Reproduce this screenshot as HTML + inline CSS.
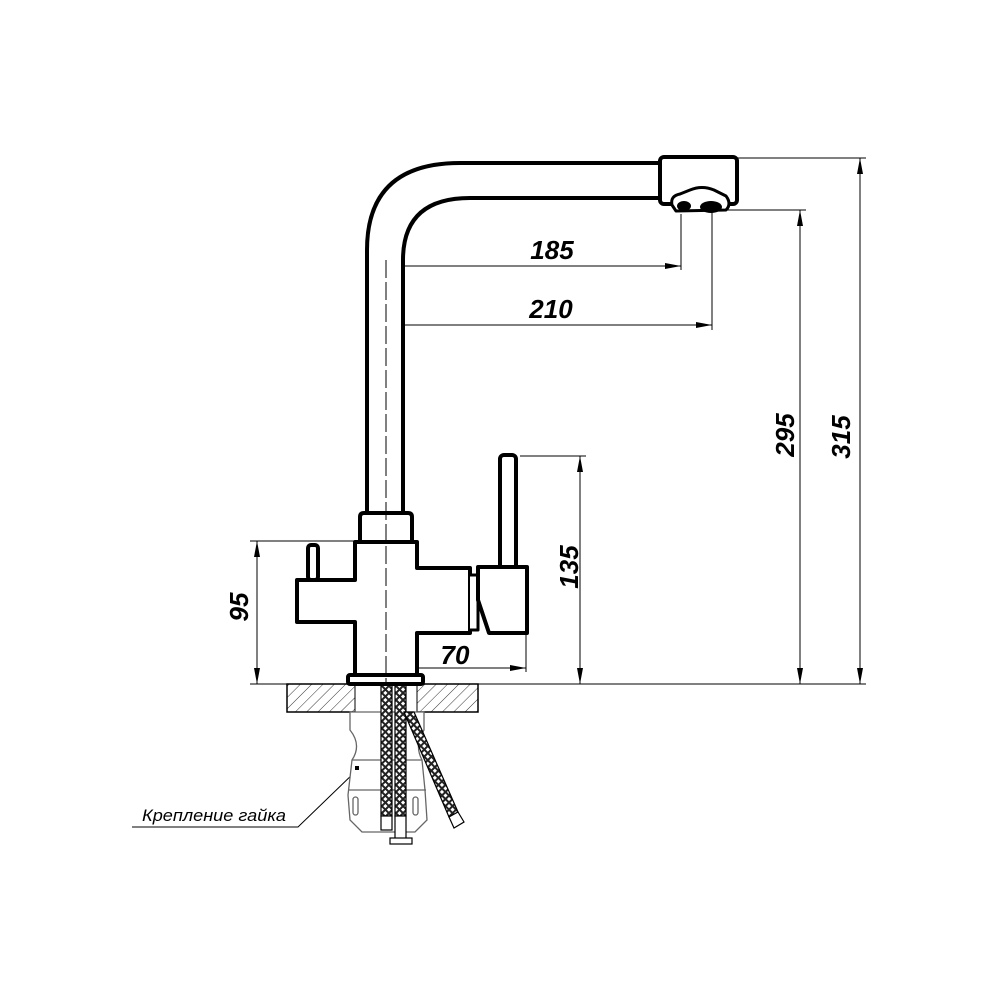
<!DOCTYPE html>
<html><head><meta charset="utf-8"><style>html,body{margin:0;padding:0;background:#fff}svg{display:block}</style></head>
<body>
<svg width="1000" height="1000" viewBox="0 0 1000 1000" xmlns="http://www.w3.org/2000/svg">
<defs>
<pattern id="hat" width="8" height="8" patternUnits="userSpaceOnUse" patternTransform="rotate(45)">
<line x1="0" y1="0" x2="0" y2="8" stroke="#333" stroke-width="1"/></pattern>
<pattern id="mesh" width="5" height="5" patternUnits="userSpaceOnUse" patternTransform="rotate(45)">
<rect width="5" height="5" fill="#222"/><rect x="1" y="1" width="3" height="3" fill="#fff"/></pattern>
<marker id="ar" markerWidth="16" markerHeight="6" refX="16" refY="3" orient="auto-start-reverse" markerUnits="userSpaceOnUse">
<path d="M0,0 L16,3 L0,6 Z" fill="#000"/></marker>
</defs>
<g fill="none" stroke="#000" stroke-width="1">
<line x1="386" y1="266" x2="681" y2="266" marker-end="url(#ar)" marker-start="url(#ar)"/>
<line x1="681" y1="214" x2="681" y2="270"/>
<line x1="386" y1="325" x2="712" y2="325" marker-end="url(#ar)" marker-start="url(#ar)"/>
<line x1="712" y1="212" x2="712" y2="330"/>
<line x1="712" y1="210" x2="806" y2="210"/>
<line x1="737" y1="158" x2="866" y2="158"/>
<line x1="800" y1="684" x2="800" y2="210" marker-end="url(#ar)" marker-start="url(#ar)"/>
<line x1="860" y1="684" x2="860" y2="158" marker-end="url(#ar)" marker-start="url(#ar)"/>
<line x1="250" y1="684" x2="866" y2="684"/>
<line x1="520" y1="456" x2="586" y2="456"/>
<line x1="580" y1="684" x2="580" y2="456" marker-end="url(#ar)" marker-start="url(#ar)"/>
<line x1="250" y1="541" x2="358" y2="541"/>
<line x1="257" y1="684" x2="257" y2="541" marker-end="url(#ar)" marker-start="url(#ar)"/>
<line x1="386" y1="668" x2="526" y2="668" marker-end="url(#ar)" marker-start="url(#ar)"/>
<line x1="526" y1="633" x2="526" y2="672"/>
<polyline points="132,827 298,827 357,770"/>
</g>
<rect x="287" y="684" width="191" height="28" fill="url(#hat)" stroke="#000" stroke-width="1.5"/>
<rect x="355" y="684" width="62" height="28" fill="#fff" stroke="#000" stroke-width="1"/>
<g fill="#fff" stroke="#666" stroke-width="1.3">
<path d="M350,712 L350,730 Q362,745 352,760 L348,795 L350,820 L362,832 L415,832 L427,820 L425,790 L422,760 Q414,745 424,730 L424,712 Z"/>
<line x1="352" y1="760" x2="422" y2="760"/>
<line x1="348" y1="790" x2="426" y2="790"/>
<rect x="353" y="797" width="5" height="18" rx="2.5"/>
<rect x="413" y="797" width="5" height="18" rx="2.5"/>
</g>
<rect x="355" y="766" width="4" height="4" fill="#000"/>
<g stroke="#000" stroke-width="1.2">
<rect x="381" y="684" width="11" height="132" fill="url(#mesh)"/>
<rect x="395" y="684" width="11" height="132" fill="url(#mesh)"/>
<path d="M404,712 L414,712 L458,812 L449,817 Z" fill="url(#mesh)"/>
<rect x="381" y="816" width="11" height="14" fill="#fff"/>
<rect x="395" y="816" width="11" height="24" fill="#fff"/>
<rect x="390" y="838" width="22" height="6" fill="#fff"/>
<path d="M449,817 L458,812 L464,822 L454,828 Z" fill="#fff"/>
</g>
<g fill="#fff" stroke="#000" stroke-width="4" stroke-linejoin="round">
<path d="M367,515 L367,250 Q367,163 460,163 L662,163 L662,198 L470,198 Q403,198 403,260 L403,515"/>
<rect x="660" y="157" width="77" height="47" rx="4"/>
<path d="M672,205 Q670,196 680,194 L690,190 Q702,185 714,190 L726,196 Q732,204 726,210 L676,211 Z" stroke-width="3"/>
<rect x="500" y="455" width="16" height="115" rx="4"/>
<path d="M360,542 L360,517 Q360,513 364,513 L408,513 Q412,513 412,517 L412,542 Z"/>
<path d="M355,542 L417,542 L417,568 L470,568 L470,633 L417,633 L417,675 L355,675 L355,622 L297,622 L297,580 L355,580 Z"/>
<path d="M470,575 L478,575 L478,630 L470,630" stroke-width="3"/>
<path d="M478,567 L527,567 L527,633 L489,633 L478,600 Z"/>
<rect x="308" y="545" width="10" height="35" rx="3"/>
<rect x="348" y="675" width="75" height="9" rx="2"/>
</g>
<ellipse cx="684" cy="206" rx="7" ry="5" fill="#000"/>
<ellipse cx="711" cy="207" rx="11" ry="6" fill="#000"/>
<line x1="386" y1="260" x2="386" y2="684" stroke="#000" stroke-width="1" stroke-dasharray="18,4"/>
<g font-family="'Liberation Sans', sans-serif" font-style="italic" font-weight="bold" font-size="26" fill="#000" text-anchor="middle">
<text x="552" y="259">185</text>
<text x="551" y="318">210</text>
<text x="455" y="664">70</text>
<text transform="translate(794,435) rotate(-90)">295</text>
<text transform="translate(850,437) rotate(-90)">315</text>
<text transform="translate(578,567) rotate(-90)">135</text>
<text transform="translate(248,607) rotate(-90)">95</text>
</g>
<text x="214" y="821" font-family="'Liberation Sans', sans-serif" font-style="italic" font-size="17" fill="#000" text-anchor="middle" textLength="144" lengthAdjust="spacingAndGlyphs">Крепление гайка</text>
</svg>
</body></html>
